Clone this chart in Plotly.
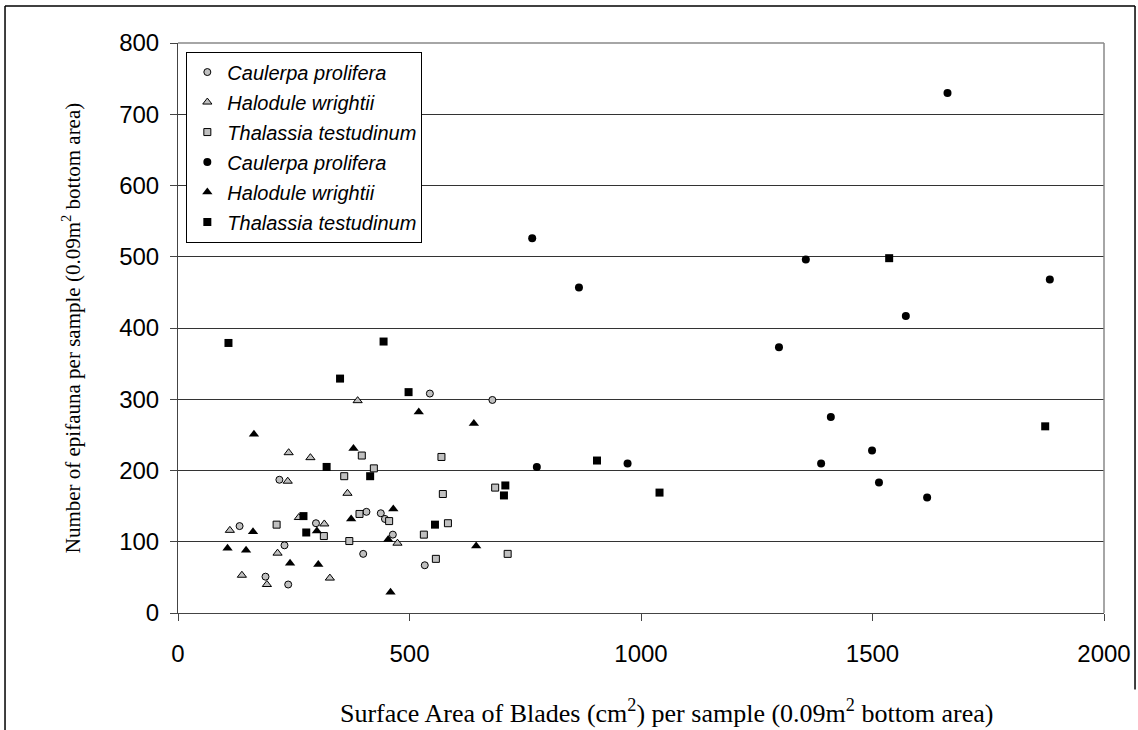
import plotly.graph_objects as go

# Surface area of blades (cm^2) and epifauna counts per 0.09 m^2 sample
caulerpa_open_x = [219, 133, 298, 407, 438, 447, 464, 230, 400, 189, 238, 544, 679, 533]
caulerpa_open_y = [187, 122, 126, 142, 140, 132, 110, 95, 83, 51, 40, 308, 299, 67]

halodule_open_x = [237, 366, 112, 261, 316, 474, 215, 138, 192, 328, 388, 239, 286]
halodule_open_y = [185, 168, 116, 134, 125, 98, 84, 53, 40, 49, 298, 225, 218]

thalassia_open_x = [572, 213, 315, 392, 456, 370, 531, 583, 557, 685, 712, 397, 359, 423, 569]
thalassia_open_y = [167, 124, 108, 139, 129, 101, 110, 126, 76, 176, 83, 221, 192, 203, 219]

caulerpa_solid_x = [765, 866, 775, 971, 1298, 1356, 1389, 1410, 1499, 1514, 1572, 1618, 1662, 1883]
caulerpa_solid_y = [526, 457, 205, 210, 373, 496, 210, 275, 228, 183, 417, 162, 730, 468]

halodule_solid_x = [465, 162, 300, 374, 454, 107, 147, 242, 303, 459, 644, 164, 379, 520, 639]
halodule_solid_y = [146, 114, 115, 132, 103, 91, 88, 70, 68, 29, 94, 251, 231, 282, 266]

thalassia_solid_x = [271, 277, 555, 707, 704, 1040, 109, 444, 350, 498, 321, 415, 905, 1536, 1873]
thalassia_solid_y = [136, 113, 124, 179, 165, 169, 379, 381, 329, 310, 205, 192, 214, 498, 262]

x_ticks = [0, 500, 1000, 1500, 2000]
y_ticks = [0, 100, 200, 300, 400, 500, 600, 700, 800]

GREY = "#c0c0c0"
series = [
    ("Caulerpa prolifera", caulerpa_open_x, caulerpa_open_y, "circle", GREY, 7),
    ("Halodule wrightii", halodule_open_x, halodule_open_y, "triangle-up", GREY, 8),
    ("Thalassia testudinum", thalassia_open_x, thalassia_open_y, "square", GREY, 7),
    ("Caulerpa prolifera", caulerpa_solid_x, caulerpa_solid_y, "circle", "black", 8),
    ("Halodule wrightii", halodule_solid_x, halodule_solid_y, "triangle-up", "black", 9),
    ("Thalassia testudinum", thalassia_solid_x, thalassia_solid_y, "square", "black", 8),
]

fig = go.Figure()
for i, (name, xs, ys, sym, col, size) in enumerate(series):
    fig.add_trace(go.Scatter(
        x=xs, y=ys, mode="markers", name=name, legendgroup=f"g{i}",
        marker=dict(symbol=sym, color=col, size=size,
                    line=dict(color="black", width=1 if col == GREY else 0)),
    ))

tick_font = dict(family="Liberation Sans, Arial, sans-serif", size=24, color="black")
serif = "Liberation Serif, Times New Roman, serif"

fig.update_layout(
    width=1138, height=730,
    margin=dict(l=178, r=34, t=43, b=117, autoexpand=False),
    paper_bgcolor="white", plot_bgcolor="white",
    showlegend=True,
    legend=dict(
        x=0.009, y=0.985, xanchor="left", yanchor="top",
        bgcolor="white", bordercolor="black", borderwidth=1,
        font=dict(family="Liberation Sans, Arial, sans-serif", size=20,
                  color="black", style="italic"),
        tracegroupgap=1, itemwidth=30,
    ),
    xaxis=dict(
        range=[0, 2000], tickvals=x_ticks, ticks="outside", ticklen=7,
        tickcolor="#444", showline=True, linecolor="#444", linewidth=1,
        showgrid=False, zeroline=False, tickfont=tick_font, ticklabelstandoff=12,
        automargin=False,
    ),
    yaxis=dict(
        range=[0, 800], tickvals=y_ticks, ticks="outside", ticklen=7,
        tickcolor="#444", showline=True, linecolor="#444", linewidth=1,
        showgrid=True, gridcolor="#333", gridwidth=1, zeroline=False,
        tickfont=tick_font, ticklabelstandoff=6, automargin=False,
        title=dict(text="Number of epifauna per sample (0.09m<sup>2</sup> bottom area)",
                   font=dict(family=serif, size=21, color="black"), standoff=32),
    ),
    annotations=[
        dict(text="Surface Area of Blades (cm<sup>2</sup>) per sample (0.09m<sup>2</sup> bottom area)",
             xref="paper", yref="paper", x=0.528, y=-0.173,
             xanchor="center", yanchor="middle", showarrow=False,
             font=dict(family=serif, size=26, color="black")),
    ],
    shapes=[
        # grey frame on top and right of the plotting area
        dict(type="line", xref="paper", yref="paper", x0=0, x1=1, y0=1, y1=1,
             line=dict(color="#888", width=1.5)),
        dict(type="line", xref="paper", yref="paper", x0=1, x1=1, y0=0, y1=1,
             line=dict(color="#888", width=1.5)),
        # chart area border
        dict(type="line", xref="paper", yref="paper", x0=-0.1868, x1=1.0335, y0=1.0649, y1=1.0649,
             line=dict(color="black", width=1.5)),
        dict(type="line", xref="paper", yref="paper", x0=-0.1868, x1=-0.1868, y0=1.0649, y1=-0.21,
             line=dict(color="black", width=1.5)),
        dict(type="line", xref="paper", yref="paper", x0=1.0335, x1=1.0335, y0=1.0649, y1=-0.134,
             line=dict(color="black", width=1.5)),
    ],
)

fig.write_html("out.html")
